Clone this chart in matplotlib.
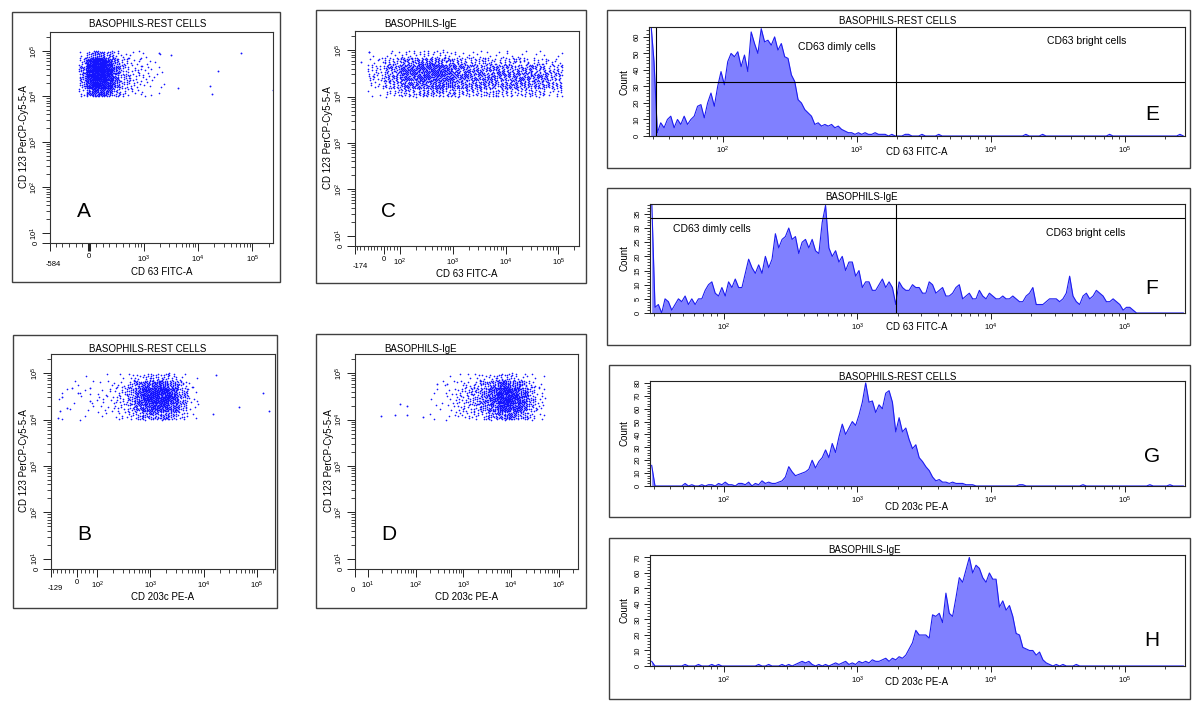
import numpy as np
import matplotlib.pyplot as plt
from matplotlib.patches import Rectangle
from matplotlib.ticker import FixedLocator, FixedFormatter, NullFormatter

plt.rcParams['font.family'] = ['Liberation Sans', 'DejaVu Sans']
plt.rcParams['mathtext.fontset'] = 'custom'
plt.rcParams['mathtext.rm'] = 'Liberation Sans'
plt.rcParams['mathtext.it'] = 'Liberation Sans:italic'

# ---------------- dot plots (events per cell, rows = CD123 bins low -> high)
cd123_edges = [1e4, 1.5e4, 2.2e4, 3.3e4, 5e4, 7e4, 1e5]

# A : rest cells, CD63
rest_cd63_edges = [-150, -50, 50, 150, 250, 350, 450, 600, 900, 1500, 2500]
rest_cd63_counts = [
    [6, 22, 32, 32, 24, 12, 8, 5, 3, 1],
    [12, 40, 55, 55, 40, 20, 12, 7, 4, 2],
    [15, 50, 70, 70, 50, 25, 15, 9, 5, 2],
    [15, 55, 75, 75, 50, 24, 14, 8, 5, 2],
    [8, 35, 50, 48, 32, 15, 9, 5, 3, 1],
    [2, 10, 18, 16, 11, 6, 4, 3, 2, 1],
]
rest_cd63_x = [1900, 3200, 4300, 2.3e4, 6.3e4, 1.7e4, 1.8e4, 2.35e5]
rest_cd63_y = [9e4, 8.2e4, 1.5e4, 3.6e4, 9e4, 1.7e4, 1.15e4, 1.35e4]

# C : IgE, CD63
ige_cd63_edges = [-100, 0, 100, 200, 400, 700, 1000, 2000, 4000, 7000,
                  1.5e4, 3e4, 6e4, 1.2e5]
ige_cd63_counts = [
    [3, 12, 22, 26, 22, 13, 20, 20, 16, 20, 17, 17, 10],
    [8, 22, 40, 46, 40, 24, 36, 33, 27, 36, 33, 33, 23],
    [13, 33, 56, 62, 53, 30, 46, 40, 33, 43, 40, 40, 26],
    [13, 36, 58, 65, 56, 30, 43, 36, 30, 36, 33, 30, 20],
    [6, 16, 30, 33, 26, 13, 20, 16, 13, 16, 13, 11, 6],
    [2, 5, 8, 10, 8, 5, 5, 5, 3, 5, 3, 3, 2],
]
ige_cd63_x = [-90, -133, -67]
ige_cd63_y = [9e4, 5.5e4, 2.8e4]

# B : rest cells, CD203c
rest_cd203_edges = [-100, 0, 100, 200, 350, 500, 700, 1000, 1500, 2200,
                    3300, 5000, 8000]
rest_cd203_counts = [
    [1, 2, 3, 6, 7, 12, 18, 24, 24, 18, 9, 2],
    [1, 2, 4, 8, 11, 20, 33, 44, 44, 33, 15, 3],
    [2, 3, 5, 10, 15, 28, 48, 64, 64, 46, 20, 4],
    [2, 3, 5, 10, 15, 28, 48, 62, 60, 42, 18, 3],
    [1, 2, 3, 5, 9, 15, 24, 32, 30, 22, 9, 2],
    [0, 1, 1, 2, 3, 5, 8, 11, 11, 8, 3, 1],
]
rest_cd203_x = [1.7e4, 1.5e4, 4.6e4, 1.3e5, 1.7e5, -75, -25, 5, -85, -50,
                65, -95, 65]
rest_cd203_y = [9e4, 1.3e4, 1.9e4, 3.7e4, 1.5e4, 3.1e4, 4.8e4, 3.8e4,
                1.5e4, 1.8e4, 4.8e4, 1.1e4, 2.5e4]

# D : IgE, CD203c
ige_cd203_edges = [200, 400, 700, 1000, 1500, 2200, 3300, 5000, 7000, 1e4,
                   1.5e4, 2.2e4, 3.3e4, 5e4]
ige_cd203_counts = [
    [2, 3, 4, 5, 7, 10, 16, 20, 24, 22, 16, 8, 3],
    [2, 3, 5, 7, 10, 16, 26, 34, 40, 36, 26, 12, 4],
    [2, 4, 6, 9, 13, 22, 36, 46, 55, 48, 32, 15, 5],
    [2, 4, 6, 9, 13, 22, 36, 46, 52, 44, 28, 12, 4],
    [1, 2, 3, 5, 7, 11, 18, 24, 26, 22, 14, 6, 2],
    [0, 1, 1, 2, 3, 4, 6, 8, 9, 7, 4, 2, 1],
]
ige_cd203_x = [19, 37, 47, 66, 66, 145, 280, 460]
ige_cd203_y = [1.2e4, 1.25e4, 2.2e4, 2e4, 1.25e4, 1.15e4, 6e4, 6e4]

# ---------------- histograms (160 bins, 40 per decade from 10^1.45)
hist_edges = np.logspace(1.45, 5.45, 161)

rest_cd63_hist = [
    70, 45, 2, 8, 5, 10, 12, 5, 10, 7,
    12, 7, 10, 12, 18, 19, 11, 20, 26, 18,
    30, 39, 31, 45, 50, 48, 51, 42, 49, 39,
    63, 56, 50, 65, 57, 58, 55, 60, 52, 56,
    48, 47, 37, 33, 22, 20, 16, 14, 12, 7,
    8, 6, 7, 6, 7, 5, 6, 4, 3, 2,
    2, 1, 2, 1, 2, 1, 1, 2, 1, 1,
    1, 0, 1, 0, 0, 0, 1, 1, 0, 0,
    0, 1, 0, 0, 0, 0, 1, 0, 0, 0,
    0, 0, 0, 0, 0, 0, 0, 0, 0, 0,
    0, 0, 0, 0, 0, 0, 0, 0, 0, 0,
    0, 0, 1, 0, 0, 0, 0, 1, 0, 0,
    0, 0, 0, 0, 0, 0, 0, 0, 0, 0,
    0, 0, 0, 0, 0, 0, 0, 1, 0, 0,
    0, 0, 0, 0, 0, 0, 0, 0, 0, 0,
    0, 0, 0, 0, 0, 0, 0, 0, 1, 0,
]
ige_cd63_hist = [
    40, 2, 3, 0, 5, 4, 1, 3, 5, 4,
    6, 3, 5, 3, 5, 5, 8, 10, 11, 7,
    6, 9, 6, 11, 9, 12, 9, 9, 14, 19,
    16, 14, 17, 14, 20, 16, 19, 28, 23, 26,
    27, 30, 26, 27, 21, 25, 26, 23, 26, 22,
    21, 32, 38, 23, 20, 22, 18, 20, 15, 18,
    18, 13, 15, 9, 11, 11, 8, 8, 10, 12,
    9, 11, 9, 3, 11, 9, 8, 8, 10, 9,
    9, 7, 7, 11, 10, 7, 8, 9, 6, 6,
    7, 9, 10, 5, 6, 7, 5, 5, 8, 6,
    5, 7, 6, 5, 5, 6, 5, 5, 6, 5,
    4, 4, 6, 7, 9, 3, 3, 3, 4, 5,
    5, 5, 4, 5, 7, 13, 6, 4, 3, 6,
    7, 5, 6, 8, 7, 6, 4, 4, 5, 4,
    3, 1, 2, 2, 1, 0, 0, 0, 0, 0,
    0, 0, 0, 0, 0, 0, 0, 0, 0, 0,
]
rest_cd203_hist = [
    16, 0, 0, 0, 0, 0, 0, 0, 0, 0,
    2, 0, 1, 0, 0, 1, 0, 1, 1, 0,
    2, 1, 3, 1, 1, 0, 2, 2, 1, 3,
    0, 2, 1, 4, 2, 3, 2, 2, 3, 4,
    7, 15, 11, 8, 9, 10, 11, 13, 20, 14,
    19, 22, 28, 22, 33, 26, 38, 48, 40, 45,
    50, 47, 55, 65, 80, 65, 66, 57, 63, 60,
    72, 74, 65, 42, 53, 42, 45, 36, 29, 32,
    22, 19, 15, 12, 7, 4, 5, 3, 3, 2,
    3, 2, 2, 2, 1, 1, 1, 0, 0, 0,
    0, 0, 0, 0, 0, 0, 0, 0, 0, 0,
    1, 1, 0, 0, 0, 0, 0, 0, 0, 0,
    0, 0, 0, 0, 0, 0, 0, 0, 0, 1,
    0, 0, 0, 0, 0, 0, 0, 0, 0, 0,
    0, 0, 0, 0, 0, 0, 0, 0, 0, 1,
    0, 0, 0, 0, 0, 1, 0, 0, 0, 0,
]
ige_cd203_hist = [
    3, 0, 0, 0, 0, 0, 0, 0, 0, 0,
    1, 0, 0, 0, 1, 0, 0, 0, 1, 0,
    1, 0, 0, 0, 0, 0, 0, 0, 0, 0,
    0, 0, 1, 0, 0, 1, 0, 0, 0, 1,
    0, 1, 0, 1, 2, 3, 2, 3, 1, 0,
    1, 0, 1, 0, 1, 2, 1, 2, 3, 1,
    2, 1, 3, 2, 3, 2, 4, 3, 3, 4,
    5, 3, 5, 4, 6, 5, 7, 11, 15, 23,
    20, 20, 20, 18, 33, 32, 34, 28, 47, 34,
    32, 44, 57, 54, 62, 70, 60, 65, 63, 57,
    54, 60, 56, 56, 38, 42, 36, 39, 32, 21,
    20, 12, 11, 10, 10, 7, 9, 4, 2, 1,
    0, 1, 0, 1, 0, 0, 0, 1, 0, 0,
    0, 0, 0, 0, 0, 0, 0, 0, 0, 0,
    0, 0, 0, 0, 0, 0, 0, 0, 0, 0,
    0, 0, 0, 0, 0, 0, 0, 0, 0, 0,
]

# gates on the CD63 histograms
gate_left = 32
gate_split = 1950
gate_level_rest = 32.7
gate_level_ige = 33.6

W, H = 1200, 712
DOT = '#1414ff'
FILL = '#8080ff'
LINE = '#1c1cf0'
EDGE = '#404040'

fig = plt.figure(figsize=(12, 7.12), dpi=100)


def rect(l, t, r, b):
    return [l / W, 1 - b / H, (r - l) / W, (b - t) / H]


def put(x, y, s, **kw):
    kw.setdefault('fontsize', 7)
    kw.setdefault('ha', 'center')
    kw.setdefault('va', 'center')
    fig.text(x / W, 1 - y / H, s, **kw)


def frame(l, t, r, b):
    fig.add_artist(Rectangle((l / W, 1 - b / H), (r - l) / W, (b - t) / H,
                             transform=fig.transFigure, fill=False,
                             ec=EDGE, lw=1.0))


def sup(k):
    return r'$\mathregular{10^{%d}}$' % k


def log_minors(lo, hi):
    return [m * 10 ** k for k in range(lo, hi) for m in range(2, 10)]


def cell_points(ax, x_edges, y_edges, counts):
    # spread each cell's events over the cell (in the axis' own scale space)
    tx = ax.xaxis.get_transform()
    ty = ax.yaxis.get_transform()
    xe = tx.transform(np.asarray(x_edges, float))
    ye = ty.transform(np.asarray(y_edges, float))
    px, py = [], []
    for r, row in enumerate(counts):
        for c, n in enumerate(row):
            k = np.arange(1, n + 1)
            u = (0.5 + 0.137 * c + 0.413 * r + k * 0.7548776662) % 1
            v = (0.5 + 0.371 * c + 0.229 * r + k * 0.5698402910) % 1
            px.append(xe[c] + u * (xe[c + 1] - xe[c]))
            py.append(ye[r] + v * (ye[r + 1] - ye[r]))
    return (tx.inverted().transform(np.concatenate(px)),
            ty.inverted().transform(np.concatenate(py)))


def dot_panel(box, x_edges, counts, sx, sy, xlim, lt, ls, xmajor, xlabels,
              xminor):
    ax = fig.add_axes(rect(*box))
    ax.set_xscale('symlog', linthresh=lt, linscale=ls)
    ax.set_yscale('symlog', linthresh=10, linscale=0.2)
    ax.set_xlim(*xlim)
    ax.set_ylim(0, 2.6e5)
    x, y = cell_points(ax, x_edges, cd123_edges, counts)
    ax.scatter(x, y, s=1.4, c=DOT, lw=0)
    ax.scatter(sx, sy, s=1.8, c=DOT, lw=0)
    ax.xaxis.set_major_locator(FixedLocator(xmajor))
    ax.xaxis.set_major_formatter(FixedFormatter(xlabels))
    ax.xaxis.set_minor_locator(FixedLocator(xminor))
    ax.xaxis.set_minor_formatter(NullFormatter())
    ax.yaxis.set_major_locator(FixedLocator([0, 10, 100, 1e3, 1e4, 1e5]))
    ax.yaxis.set_major_formatter(FixedFormatter(['0'] + [sup(k) for k in range(1, 6)]))
    ax.yaxis.set_minor_locator(FixedLocator(log_minors(1, 5) + [2e5]))
    ax.yaxis.set_minor_formatter(NullFormatter())
    ax.tick_params(which='major', direction='out', length=6, width=0.7,
                   labelsize=5.5, pad=1.5, color='#222')
    ax.tick_params(which='minor', direction='out', length=3.2, width=0.6,
                   color='#222')
    ax.tick_params(axis='y', labelrotation=90)
    for lab in ax.get_yticklabels():
        lab.set_va('center')
    for sp in ax.spines.values():
        sp.set_linewidth(0.8)
        sp.set_color('#333')
    return ax


# A
frame(12, 12, 280, 282)
ax = dot_panel((50, 32, 273, 243), rest_cd63_edges, rest_cd63_counts,
               rest_cd63_x, rest_cd63_y, (-584, 2.4e5), 670, 0.743,
               [-584, 0, 1e3, 1e4, 1e5], ['', '0', sup(3), sup(4), sup(5)],
               list(range(-500, 0, 100)) + list(range(100, 1000, 100)) + log_minors(3, 5) + [2e5])
ax.xaxis.get_major_ticks()[1].tick1line.set_markeredgewidth(2.2)
put(53, 265, '-584', fontsize=5.5)
put(148, 24, 'BASOPHILS-REST CELLS')
put(162, 272, 'CD 63 FITC-A')
put(24, 137, 'CD 123 PerCP-Cy5-5-A', rotation=90)
put(84, 212, 'A', fontsize=15)

# C
frame(316, 10, 586, 283)
dot_panel((355, 31, 579, 246), ige_cd63_edges, ige_cd63_counts,
          ige_cd63_x, ige_cd63_y, (-174, 2.45e5), 100, 0.275,
          [-174, 0, 1e2, 1e3, 1e4, 1e5], ['', '0', sup(2), sup(3), sup(4), sup(5)],
          list(range(-160, 0, 20)) + list(range(20, 100, 20)) + log_minors(2, 5) + [2e5])
put(360, 267, '-174', fontsize=5.5)
put(421, 24, 'BASOPHILS-IgE')
put(467, 274, 'CD 63 FITC-A')
put(328, 138, 'CD 123 PerCP-Cy5-5-A', rotation=90)
put(389, 212, 'C', fontsize=15)

# B
frame(13, 335, 277, 608)
dot_panel((51, 354, 275, 569), rest_cd203_edges, rest_cd203_counts,
          rest_cd203_x, rest_cd203_y, (-129, 2.2e5), 100, 0.342,
          [-129, 0, 1e2, 1e3, 1e4, 1e5], ['', '0', sup(2), sup(3), sup(4), sup(5)],
          list(range(-120, 0, 20)) + list(range(20, 100, 20)) + log_minors(2, 5) + [2e5])
put(55, 588, '-129', fontsize=5.5)
put(148, 349, 'BASOPHILS-REST CELLS')
put(163, 597, 'CD 203c PE-A')
put(24, 461, 'CD 123 PerCP-Cy5-5-A', rotation=90)
put(84, 535, 'B', fontsize=15)

# D
frame(316, 334, 586, 608)
dot_panel((355, 354, 578, 569), ige_cd203_edges, ige_cd203_counts,
          ige_cd203_x, ige_cd203_y, (0, 2.5e5), 10, 0.243,
          [0, 10, 1e2, 1e3, 1e4, 1e5], ['', sup(1), sup(2), sup(3), sup(4), sup(5)],
          log_minors(1, 5) + [2e5])
put(353, 590, '0', fontsize=5.5)
put(421, 349, 'BASOPHILS-IgE')
put(467, 597, 'CD 203c PE-A')
put(329, 461, 'CD 123 PerCP-Cy5-5-A', rotation=90)
put(389, 535, 'D', fontsize=15)


def hist_panel(box, counts, ymax, ystep, yminor):
    ax = fig.add_axes(rect(*box))
    ax.set_xscale('log')
    centers = np.sqrt(hist_edges[:-1] * hist_edges[1:])
    ax.fill_between(centers, counts, color=FILL, lw=0)
    ax.plot(centers, counts, color=LINE, lw=0.8)
    ax.set_xlim(hist_edges[0], hist_edges[-1])
    ax.set_ylim(0, ymax)
    ax.xaxis.set_major_locator(FixedLocator([1e2, 1e3, 1e4, 1e5]))
    ax.xaxis.set_major_formatter(FixedFormatter([sup(k) for k in range(2, 6)]))
    ax.xaxis.set_minor_locator(FixedLocator([30, 40, 50, 60, 70, 80, 90] + log_minors(2, 5) + [2e5]))
    ax.xaxis.set_minor_formatter(NullFormatter())
    ax.yaxis.set_major_locator(FixedLocator(np.arange(0, ymax, ystep)))
    ax.yaxis.set_minor_locator(FixedLocator(np.arange(0, ymax, yminor)))
    ax.tick_params(which='major', direction='out', length=4.5, width=0.7,
                   labelsize=5.5, pad=1.5, color='#222')
    ax.tick_params(which='minor', direction='out', length=2.5, width=0.6,
                   color='#222')
    ax.tick_params(axis='y', labelrotation=90)
    for lab in ax.get_yticklabels():
        lab.set_va('center')
    for sp in ax.spines.values():
        sp.set_linewidth(0.8)
        sp.set_color('#222')
    return ax


# E
frame(607, 10, 1190, 168)
ax = hist_panel((649, 27, 1185, 136), rest_cd63_hist, 66, 10, 2)
ax.axvline(gate_left, color='k', lw=0.8)
ax.axvline(gate_split, color='k', lw=0.8)
ax.plot([gate_left, hist_edges[-1]], [gate_level_rest] * 2, color='k', lw=0.8)
put(898, 21, 'BASOPHILS-REST CELLS')
put(798, 47, 'CD63 dimly cells', ha='left', fontsize=7.5)
put(1047, 41, 'CD63 bright cells', ha='left', fontsize=7.5)
put(917, 152, 'CD 63 FITC-A')
put(625, 82, 'Count', rotation=90)
put(1152, 115, 'E', fontsize=15)

# F
frame(607, 188, 1190, 345)
ax = hist_panel((650, 204, 1185, 313), ige_cd63_hist, 38.5, 5, 1)
ax.axvline(gate_split, color='k', lw=0.8)
ax.plot([hist_edges[0], hist_edges[-1]], [gate_level_ige] * 2, color='k', lw=0.8)
put(862, 197, 'BASOPHILS-IgE')
put(673, 229, 'CD63 dimly cells', ha='left', fontsize=7.5)
put(1046, 233, 'CD63 bright cells', ha='left', fontsize=7.5)
put(917, 327, 'CD 63 FITC-A')
put(625, 258, 'Count', rotation=90)
put(1152, 288, 'F', fontsize=15)

# G
frame(609, 365, 1190, 517)
hist_panel((650, 381, 1185, 486), rest_cd203_hist, 81.5, 10, 2)
put(898, 377, 'BASOPHILS-REST CELLS')
put(917, 507, 'CD 203c PE-A')
put(625, 433, 'Count', rotation=90)
put(1152, 457, 'G', fontsize=15)

# H
frame(609, 538, 1190, 699)
hist_panel((650, 555, 1185, 666), ige_cd203_hist, 71.6, 10, 2)
put(865, 550, 'BASOPHILS-IgE')
put(917, 682, 'CD 203c PE-A')
put(625, 610, 'Count', rotation=90)
put(1152, 640, 'H', fontsize=15)

fig.savefig('out.png', dpi=100)
